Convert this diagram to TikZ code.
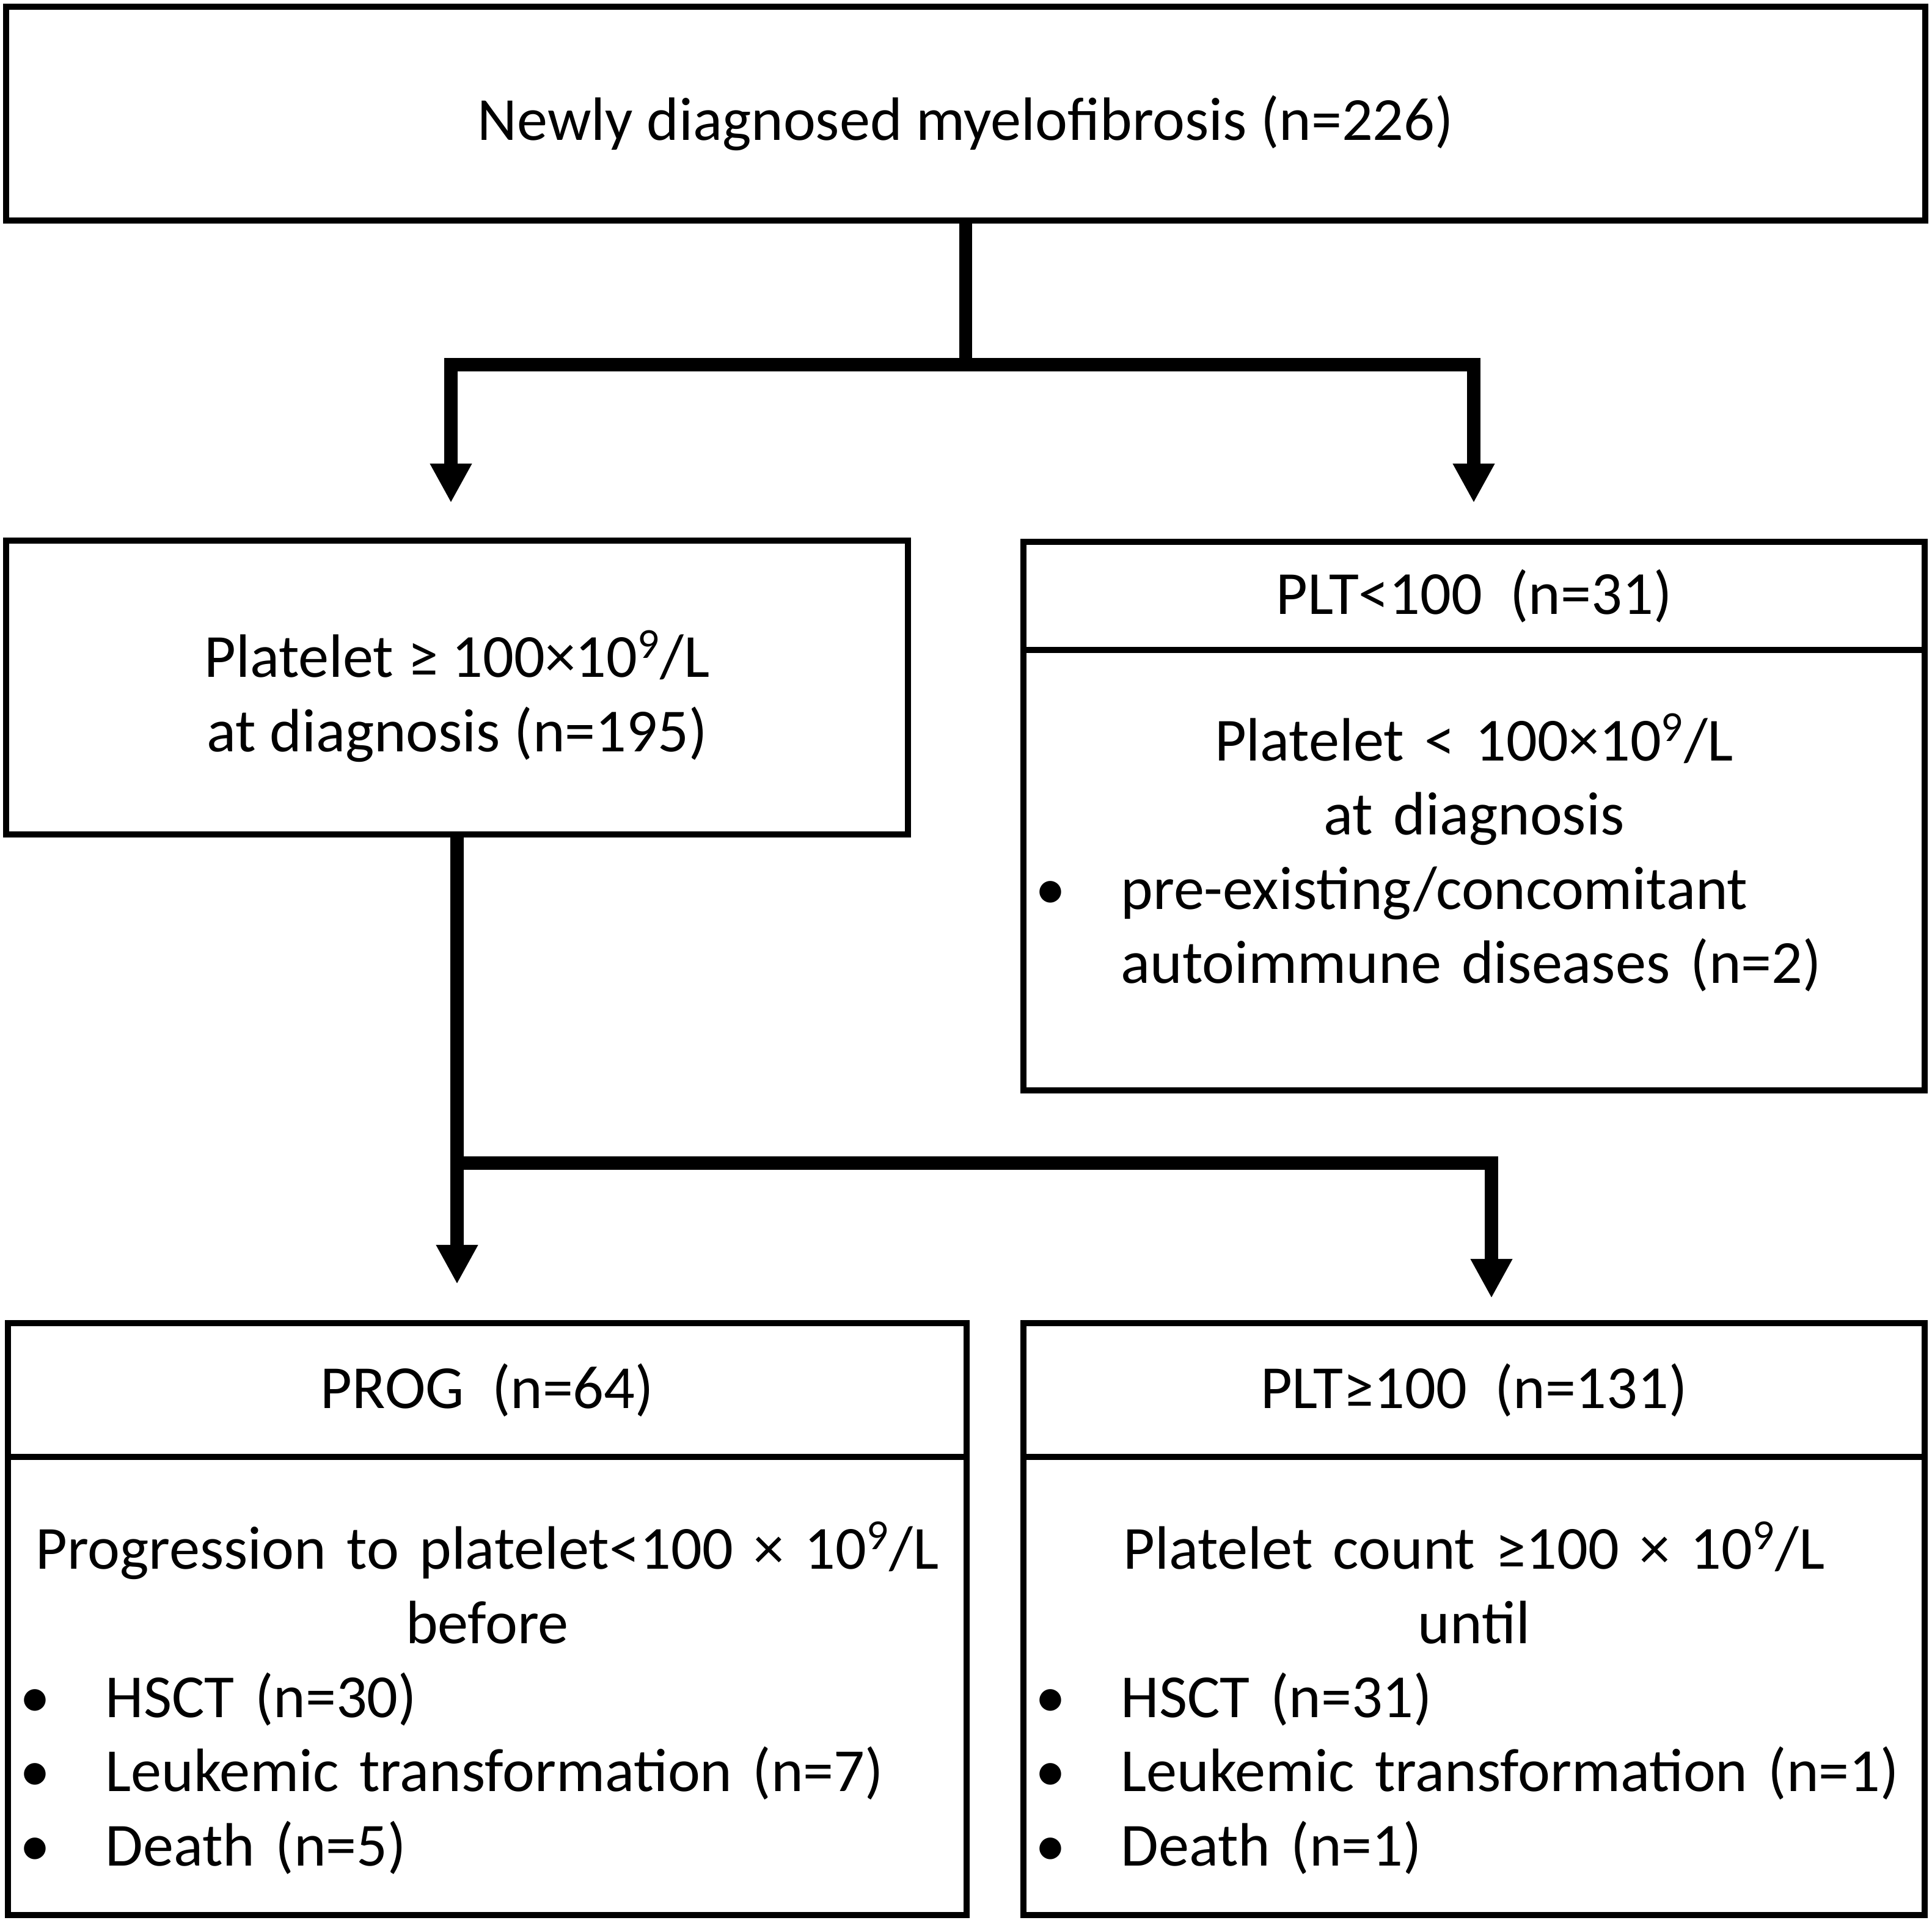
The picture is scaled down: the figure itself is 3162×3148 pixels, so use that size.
\documentclass[tikz,border=0pt]{standalone}
\usepackage{fontspec}
\setmainfont{Carlito}
\usetikzlibrary{arrows.meta,positioning}
\setlength{\parindent}{0pt}
\newcommand{\bitem}[1]{\par\noindent\makebox[1.4cm][l]{\textbullet}\mbox{#1}}
\newcommand{\bcont}[1]{\par\noindent\hspace*{1.4cm}\mbox{#1}}
\newcommand{\tenpow}{10\textsuperscript{9}/L}

\begin{document}
\begin{tikzpicture}[x=0.01cm,y=-0.01cm,
    box/.style={draw,line width=2.85pt,outer sep=0pt,inner sep=0pt,align=center,
                font=\fontsize{28.5}{34.5}\selectfont},
    body/.style={box,align=left,inner xsep=0.2cm,text width=#1},
    trunk/.style={line width=6pt},
    flow/.style={trunk,-{Triangle[width=6.4mm,length=6.4mm]}}]
  \useasboundingbox (0,0) rectangle (3162,3148);

  % top row
  \node[box,minimum width=31.39cm,minimum height=3.5cm] (mf) at (1580.5,186)
       {\rule{0pt}{1.05cm}Newly diagnosed myelofibrosis (n=226)};

  % second row
  \node[box,minimum width=14.76cm,minimum height=4.81cm] (ge195) at (748,1125.5)
       {\rule{0pt}{1.05cm}Platelet ≥ 100×\tenpow\\at diagnosis (n=195)};
  \node[box,minimum width=14.75cm,minimum height=1.77cm] (lt31) at (2412.5,975.5)
       {PLT<100~ (n=31)};
  \node[body=14.35cm,minimum width=14.75cm,minimum height=7.21cm,below=0pt of lt31] (lt31b)
       {{\centering Platelet < 100×\tenpow\\at diagnosis\par}
        \bitem{pre-existing/concomitant}
        \bcont{autoimmune diseases (n=2)\rule[-0.72cm]{0pt}{0pt}}};

  % bottom row
  \node[box,minimum width=15.69cm,minimum height=2.19cm] (prog) at (797.5,2275.5)
       {PROG~ (n=64)};
  \node[body=15.29cm,minimum width=15.69cm,minimum height=7.49cm,below=0pt of prog] (progb)
       {{\centering\rule{0pt}{1.17cm}Progression to platelet<100 × \tenpow\\before\par}
        \bitem{HSCT (n=30)}
        \bitem{Leukemic transformation (n=7)}
        \bitem{Death (n=5)}};
  \node[box,minimum width=14.75cm,minimum height=2.19cm] (ge131) at (2412.5,2275.5)
       {PLT≥100~ (n=131)};
  \node[body=14.35cm,minimum width=14.75cm,minimum height=7.49cm,below=0pt of ge131] (ge131b)
       {{\centering\rule{0pt}{1.17cm}Platelet count ≥100 × \tenpow\\until\par}
        \bitem{HSCT (n=31)}
        \bitem{Leukemic transformation (n=1)}
        \bitem{Death (n=1)}};

  % connectors
  \coordinate (j1) at (1580.5,597);
  \coordinate (a1) at (738,823);
  \coordinate (a2) at (2412,823);
  \coordinate (j2) at (748,1904);
  \coordinate (a3) at (748,2102);
  \coordinate (a4) at (2441,2125);

  \draw[trunk] (mf) -- (j1);
  \draw[flow] (j1) -| (a1);
  \draw[flow] (j1) -| (a2);
  \draw[trunk] (ge195) -- (j2);
  \draw[flow] (j2) -- (a3);
  \draw[flow] (j2) -| (a4);
\end{tikzpicture}
\end{document}
